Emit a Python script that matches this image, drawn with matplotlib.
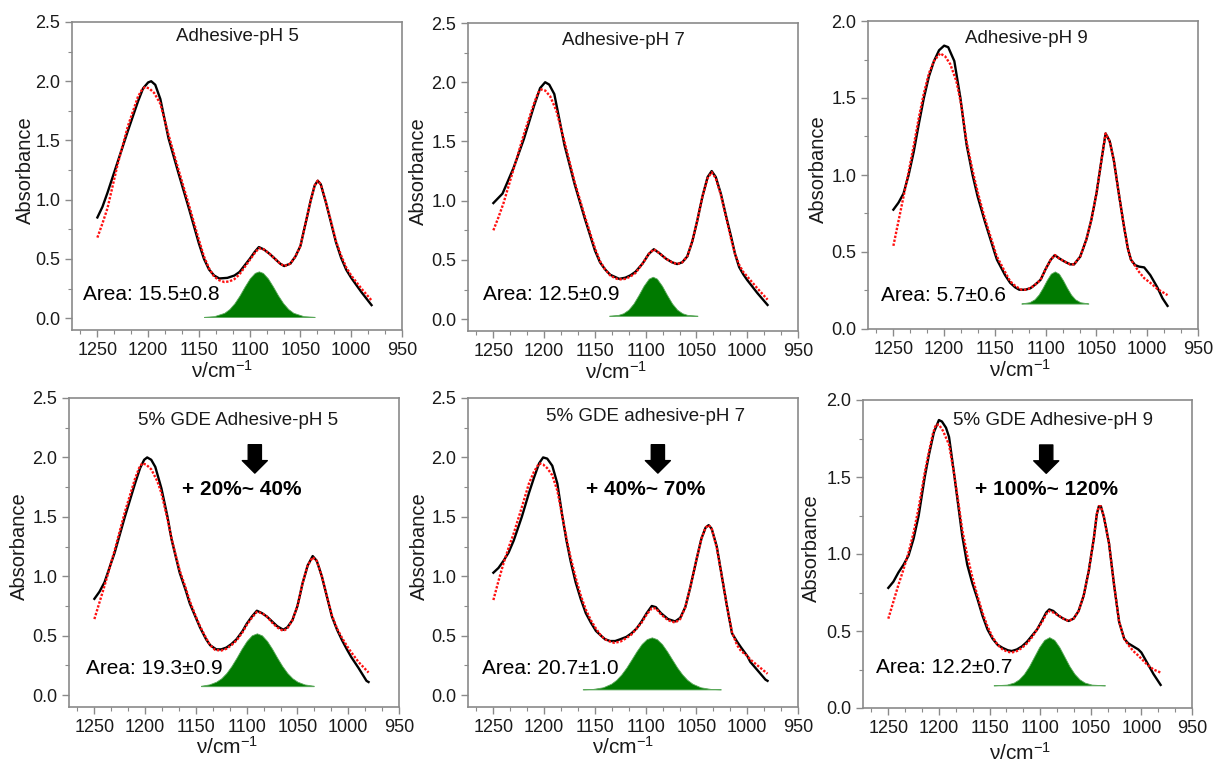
import numpy as np
import matplotlib
matplotlib.use('Agg')
import matplotlib.pyplot as plt
from matplotlib.ticker import MultipleLocator, AutoMinorLocator

plt.rcParams['font.family'] = ['Liberation Sans', 'DejaVu Sans']
plt.rcParams['mathtext.fontset'] = 'custom'
plt.rcParams['mathtext.rm'] = 'Liberation Sans'
plt.rcParams['mathtext.it'] = 'Liberation Sans'

######## data (wavenumber in cm-1, absorbance)
# Adhesive pH 5
wn_a5 = [1250, 1245, 1240, 1230, 1220, 1210, 1205, 1200, 1197, 1193, 1188, 1180, 1170, 1160, 1150,
         1145, 1140, 1135, 1130, 1122, 1115, 1110, 1100, 1095, 1091, 1086, 1080, 1070, 1066, 1060,
         1055, 1050, 1045, 1040, 1036, 1033, 1030, 1025, 1020, 1015, 1010, 1005, 1000, 990, 980]
abs_a5 = [0.85, 0.94, 1.06, 1.32, 1.58, 1.83, 1.94, 1.99, 2.00, 1.97, 1.85, 1.52, 1.22, 0.93, 0.63,
          0.50, 0.41, 0.36, 0.335, 0.34, 0.36, 0.39, 0.50, 0.56, 0.60, 0.58, 0.54, 0.46, 0.44, 0.46,
          0.52, 0.61, 0.80, 0.99, 1.12, 1.16, 1.13, 0.98, 0.81, 0.64, 0.51, 0.41, 0.34, 0.22, 0.11]
fwn_a5 = [1250, 1245, 1240, 1230, 1220, 1210, 1206, 1203, 1199, 1194, 1188, 1180, 1170, 1160, 1150,
          1145, 1140, 1135, 1130, 1125, 1120, 1115, 1110, 1100, 1095, 1091, 1086, 1080, 1070, 1066,
          1060, 1055, 1050, 1045, 1040, 1036, 1033, 1030, 1025, 1020, 1015, 1010, 1005, 1000, 990, 980]
fit_a5 = [0.68, 0.80, 0.93, 1.30, 1.62, 1.87, 1.93, 1.95, 1.94, 1.90, 1.81, 1.55, 1.25, 0.96, 0.66,
          0.52, 0.42, 0.35, 0.32, 0.305, 0.31, 0.33, 0.37, 0.49, 0.55, 0.59, 0.58, 0.54, 0.46, 0.44,
          0.46, 0.52, 0.61, 0.80, 0.99, 1.12, 1.16, 1.13, 0.98, 0.82, 0.65, 0.53, 0.43, 0.36, 0.25, 0.15]
pwn_a5 = [1145, 1135, 1125, 1120, 1115, 1110, 1105, 1100, 1095, 1091, 1087, 1082, 1077, 1072, 1067,
          1062, 1057, 1047, 1036]
peak_a5 = [0.011, 0.017, 0.045, 0.077, 0.126, 0.191, 0.266, 0.335, 0.382, 0.395, 0.382, 0.335, 0.266,
           0.191, 0.126, 0.077, 0.045, 0.017, 0.011]
base_a5 = 0.01

# Adhesive pH 7
wn_a7 = [1250, 1241, 1230, 1220, 1210, 1204, 1199, 1195, 1190, 1180, 1170, 1160, 1150, 1145, 1140,
         1135, 1126, 1120, 1115, 1110, 1103, 1097, 1092, 1087, 1080, 1074, 1069, 1064, 1059, 1054,
         1049, 1044, 1039, 1035, 1031, 1026, 1020, 1016, 1012, 1008, 1004, 1000, 990, 980]
abs_a7 = [0.98, 1.06, 1.28, 1.52, 1.80, 1.95, 2.00, 1.98, 1.90, 1.47, 1.14, 0.85, 0.58, 0.48, 0.42,
          0.375, 0.34, 0.35, 0.37, 0.40, 0.47, 0.55, 0.59, 0.56, 0.51, 0.48, 0.465, 0.48, 0.53, 0.66,
          0.84, 1.04, 1.20, 1.25, 1.20, 1.06, 0.84, 0.70, 0.55, 0.44, 0.38, 0.33, 0.22, 0.12]
fwn_a7 = [1250, 1245, 1240, 1230, 1220, 1210, 1206, 1203, 1199, 1194, 1188, 1180, 1170, 1160, 1150,
          1145, 1140, 1135, 1130, 1126, 1120, 1115, 1110, 1103, 1097, 1092, 1087, 1080, 1074, 1069,
          1064, 1059, 1054, 1049, 1044, 1039, 1035, 1031, 1026, 1020, 1016, 1012, 1008, 1004, 1000,
          990, 980]
fit_a7 = [0.75, 0.86, 0.98, 1.27, 1.56, 1.82, 1.91, 1.94, 1.93, 1.88, 1.76, 1.50, 1.16, 0.87, 0.60,
          0.49, 0.42, 0.37, 0.345, 0.335, 0.34, 0.36, 0.39, 0.47, 0.55, 0.59, 0.56, 0.51, 0.48, 0.465,
          0.48, 0.53, 0.66, 0.84, 1.04, 1.19, 1.24, 1.19, 1.05, 0.83, 0.68, 0.55, 0.46, 0.40, 0.36,
          0.26, 0.165]
pwn_a7 = [1136, 1127, 1122, 1117, 1112, 1107, 1102, 1097, 1093, 1089, 1084, 1079, 1074, 1069, 1064,
          1059, 1049]
peak_a7 = [0.029, 0.036, 0.050, 0.080, 0.132, 0.204, 0.282, 0.342, 0.358, 0.342, 0.282, 0.204, 0.132,
           0.080, 0.050, 0.036, 0.029]
base_a7 = 0.028

# Adhesive pH 9
wn_a9 = [1250, 1245, 1240, 1235, 1230, 1225, 1220, 1215, 1210, 1205, 1200, 1196, 1190, 1184, 1178,
         1172, 1167, 1160, 1150, 1148, 1140, 1135, 1130, 1126, 1120, 1115, 1110, 1105, 1100, 1095,
         1091, 1087, 1082, 1076, 1072, 1066, 1060, 1055, 1050, 1045, 1041, 1037, 1033, 1028, 1023,
         1019, 1016, 1012, 1008, 1003, 997, 990, 985, 980]
abs_a9 = [0.775, 0.82, 0.88, 1.00, 1.15, 1.33, 1.50, 1.64, 1.74, 1.81, 1.84, 1.83, 1.74, 1.50, 1.20,
          1.00, 0.86, 0.70, 0.49, 0.45, 0.35, 0.30, 0.27, 0.255, 0.255, 0.265, 0.29, 0.32, 0.39, 0.45,
          0.48, 0.46, 0.44, 0.42, 0.42, 0.47, 0.58, 0.71, 0.88, 1.10, 1.27, 1.22, 1.10, 0.88, 0.67,
          0.52, 0.45, 0.415, 0.405, 0.40, 0.35, 0.27, 0.20, 0.15]
fwn_a9 = [1250, 1245, 1240, 1235, 1230, 1225, 1220, 1215, 1210, 1204, 1199, 1194, 1188, 1183, 1178,
          1172, 1167, 1160, 1150, 1148, 1140, 1135, 1130, 1124, 1120, 1115, 1110, 1105, 1100, 1095,
          1091, 1087, 1082, 1076, 1072, 1066, 1060, 1055, 1050, 1045, 1041, 1037, 1033, 1028, 1023,
          1019, 1016, 1012, 1008, 1003, 997, 990, 985, 980]
fit_a9 = [0.54, 0.70, 0.86, 1.02, 1.19, 1.37, 1.53, 1.66, 1.74, 1.79, 1.77, 1.72, 1.61, 1.45, 1.22,
          1.03, 0.89, 0.72, 0.51, 0.47, 0.37, 0.31, 0.28, 0.255, 0.255, 0.265, 0.29, 0.32, 0.39, 0.45,
          0.48, 0.46, 0.44, 0.42, 0.42, 0.47, 0.58, 0.71, 0.88, 1.10, 1.27, 1.22, 1.10, 0.88, 0.67,
          0.52, 0.45, 0.41, 0.37, 0.33, 0.30, 0.26, 0.24, 0.22]
pwn_a9 = [1124, 1116, 1111, 1107, 1103, 1099, 1095, 1091, 1087, 1083, 1079, 1075, 1071, 1066, 1058]
peak_a9 = [0.166, 0.174, 0.193, 0.223, 0.267, 0.317, 0.359, 0.374, 0.359, 0.317, 0.267, 0.223, 0.193,
           0.174, 0.166]
base_a9 = 0.165

# 5% GDE adhesive pH 5
wn_g5 = [1250, 1245, 1240, 1230, 1220, 1210, 1205, 1201, 1198, 1194, 1190, 1184, 1178, 1174, 1170,
         1166, 1160, 1156, 1150, 1146, 1140, 1136, 1130, 1125, 1120, 1115, 1110, 1104, 1100, 1095,
         1090, 1085, 1080, 1075, 1070, 1064, 1060, 1055, 1050, 1045, 1040, 1035, 1031, 1026, 1021,
         1016, 1011, 1006, 1001, 997, 990, 982, 980]
abs_g5 = [0.81, 0.87, 0.95, 1.20, 1.50, 1.78, 1.91, 1.98, 2.00, 1.98, 1.92, 1.74, 1.50, 1.31, 1.17,
          1.03, 0.88, 0.77, 0.65, 0.57, 0.47, 0.42, 0.385, 0.385, 0.40, 0.43, 0.47, 0.54, 0.60, 0.66,
          0.71, 0.69, 0.66, 0.62, 0.58, 0.55, 0.57, 0.63, 0.75, 0.94, 1.09, 1.17, 1.13, 1.00, 0.83,
          0.66, 0.55, 0.46, 0.38, 0.32, 0.23, 0.12, 0.11]
fwn_g5 = [1250, 1245, 1240, 1230, 1220, 1210, 1206, 1203, 1199, 1194, 1188, 1184, 1178, 1174, 1170,
          1166, 1160, 1156, 1150, 1146, 1140, 1136, 1131, 1125, 1120, 1115, 1110, 1104, 1100, 1095,
          1090, 1085, 1080, 1075, 1070, 1064, 1060, 1055, 1050, 1045, 1040, 1035, 1031, 1026, 1021,
          1016, 1011, 1006, 1001, 997, 990, 980]
fit_g5 = [0.64, 0.78, 0.92, 1.22, 1.54, 1.82, 1.91, 1.95, 1.94, 1.90, 1.80, 1.70, 1.48, 1.32, 1.18,
          1.05, 0.90, 0.79, 0.66, 0.58, 0.48, 0.42, 0.38, 0.375, 0.39, 0.42, 0.46, 0.53, 0.59, 0.65,
          0.70, 0.69, 0.66, 0.61, 0.57, 0.54, 0.56, 0.63, 0.75, 0.94, 1.09, 1.16, 1.13, 1.00, 0.83,
          0.67, 0.56, 0.48, 0.41, 0.36, 0.28, 0.19]
pwn_g5 = [1145, 1137, 1130, 1125, 1120, 1115, 1110, 1105, 1100, 1095, 1090, 1085, 1080, 1075, 1070,
          1065, 1060, 1055, 1050, 1043, 1034]
peak_g5 = [0.079, 0.090, 0.113, 0.142, 0.186, 0.245, 0.315, 0.390, 0.456, 0.503, 0.52, 0.503, 0.456,
           0.390, 0.315, 0.245, 0.186, 0.142, 0.113, 0.090, 0.079]
base_g5 = 0.075

# 5% GDE adhesive pH 7
wn_g7 = [1250, 1245, 1240, 1235, 1230, 1222, 1215, 1210, 1205, 1201, 1197, 1192, 1187, 1182, 1178,
         1174, 1169, 1164, 1159, 1154, 1149, 1144, 1140, 1135, 1130, 1125, 1119, 1114, 1109, 1104,
         1099, 1094, 1090, 1085, 1078, 1071, 1066, 1061, 1056, 1050, 1045, 1041, 1038, 1035, 1030,
         1025, 1020, 1015, 1010, 1006, 1000, 997, 990, 982, 980]
abs_g7 = [1.03, 1.07, 1.13, 1.20, 1.30, 1.50, 1.70, 1.83, 1.95, 2.00, 1.99, 1.93, 1.78, 1.50, 1.30,
          1.13, 0.95, 0.81, 0.69, 0.61, 0.54, 0.50, 0.47, 0.455, 0.455, 0.47, 0.49, 0.52, 0.56, 0.62,
          0.69, 0.75, 0.74, 0.69, 0.64, 0.62, 0.65, 0.74, 0.91, 1.14, 1.32, 1.41, 1.43, 1.40, 1.25,
          1.00, 0.75, 0.52, 0.45, 0.40, 0.33, 0.28, 0.21, 0.13, 0.12]
fwn_g7 = [1250, 1245, 1240, 1235, 1230, 1222, 1215, 1210, 1205, 1201, 1197, 1192, 1187, 1182, 1178,
          1174, 1169, 1164, 1159, 1154, 1149, 1144, 1140, 1135, 1131, 1125, 1119, 1114, 1109, 1104,
          1099, 1094, 1090, 1085, 1078, 1071, 1066, 1061, 1056, 1050, 1045, 1041, 1038, 1035, 1030,
          1025, 1020, 1015, 1010, 1006, 1000, 997, 990, 980]
fit_g7 = [0.80, 0.96, 1.11, 1.24, 1.36, 1.58, 1.78, 1.88, 1.95, 1.94, 1.91, 1.85, 1.72, 1.50, 1.32,
          1.16, 0.99, 0.84, 0.72, 0.63, 0.56, 0.50, 0.47, 0.45, 0.44, 0.45, 0.48, 0.51, 0.56, 0.61,
          0.68, 0.73, 0.73, 0.68, 0.63, 0.61, 0.64, 0.74, 0.91, 1.14, 1.32, 1.41, 1.43, 1.40, 1.24,
          1.00, 0.75, 0.53, 0.42, 0.37, 0.33, 0.30, 0.25, 0.18]
pwn_g7 = [1162, 1152, 1142, 1134, 1129, 1124, 1119, 1114, 1109, 1104, 1099, 1094, 1089, 1084, 1079,
          1074, 1069, 1064, 1059, 1054, 1046, 1036, 1026]
peak_g7 = [0.049, 0.052, 0.066, 0.096, 0.128, 0.174, 0.232, 0.300, 0.369, 0.430, 0.471, 0.486, 0.471,
           0.430, 0.369, 0.300, 0.232, 0.174, 0.128, 0.096, 0.066, 0.052, 0.049]
base_g7 = 0.048

# 5% GDE adhesive pH 9
wn_g9 = [1250, 1245, 1240, 1235, 1230, 1225, 1220, 1214, 1210, 1205, 1200, 1197, 1193, 1190, 1185,
         1180, 1177, 1172, 1167, 1162, 1157, 1152, 1147, 1142, 1137, 1132, 1128, 1123, 1118, 1113,
         1108, 1103, 1098, 1094, 1091, 1087, 1082, 1077, 1072, 1067, 1062, 1057, 1052, 1047, 1044,
         1042, 1040, 1037, 1032, 1027, 1022, 1017, 1013, 1008, 1003, 1000, 994, 988, 981]
abs_g9 = [0.78, 0.82, 0.88, 0.93, 0.99, 1.10, 1.25, 1.50, 1.64, 1.79, 1.87, 1.86, 1.82, 1.76, 1.52,
          1.27, 1.12, 0.93, 0.81, 0.71, 0.60, 0.51, 0.45, 0.41, 0.39, 0.375, 0.37, 0.38, 0.40, 0.43,
          0.47, 0.51, 0.57, 0.62, 0.64, 0.63, 0.60, 0.58, 0.565, 0.58, 0.63, 0.73, 0.89, 1.10, 1.26,
          1.31, 1.31, 1.24, 1.07, 0.80, 0.56, 0.45, 0.42, 0.40, 0.38, 0.36, 0.29, 0.22, 0.15]
fwn_g9 = [1250, 1245, 1240, 1235, 1230, 1225, 1220, 1214, 1210, 1206, 1203, 1200, 1196, 1190, 1185,
          1180, 1177, 1172, 1167, 1162, 1157, 1152, 1147, 1142, 1137, 1132, 1128, 1123, 1118, 1113,
          1108, 1103, 1098, 1094, 1091, 1087, 1082, 1077, 1072, 1067, 1062, 1057, 1052, 1047, 1044,
          1042, 1040, 1037, 1032, 1027, 1022, 1017, 1013, 1008, 1003, 1000, 994, 988, 981]
fit_g9 = [0.58, 0.69, 0.80, 0.90, 1.01, 1.14, 1.30, 1.53, 1.66, 1.78, 1.84, 1.84, 1.80, 1.71, 1.52,
          1.30, 1.16, 0.99, 0.85, 0.73, 0.62, 0.53, 0.46, 0.41, 0.38, 0.365, 0.36, 0.37, 0.39, 0.42,
          0.46, 0.51, 0.56, 0.61, 0.63, 0.62, 0.60, 0.58, 0.565, 0.58, 0.63, 0.73, 0.89, 1.10, 1.26,
          1.31, 1.31, 1.24, 1.07, 0.80, 0.56, 0.45, 0.41, 0.37, 0.34, 0.32, 0.28, 0.25, 0.23]
pwn_g9 = [1146, 1133, 1126, 1121, 1116, 1111, 1106, 1101, 1096, 1091, 1086, 1081, 1076, 1071, 1066,
          1061, 1056, 1049, 1036]
peak_g9 = [0.147, 0.152, 0.165, 0.186, 0.221, 0.271, 0.333, 0.395, 0.442, 0.46, 0.442, 0.395, 0.333,
           0.271, 0.221, 0.186, 0.165, 0.152, 0.147]
base_g9 = 0.147

titles = ['Adhesive-pH 5', 'Adhesive-pH 7', 'Adhesive-pH 9',
          '5% GDE Adhesive-pH 5', '5% GDE adhesive-pH 7', '5% GDE Adhesive-pH 9']
areas = ['Area: 15.5±0.8', 'Area: 12.5±0.9', 'Area: 5.7±0.6',
         'Area: 19.3±0.9', 'Area: 20.7±1.0', 'Area: 12.2±0.7']
increase = [None, None, None, '+ 20%~ 40%', '+ 40%~ 70%', '+ 100%~ 120%']
y_top = [2.5, 2.5, 2.0, 2.5, 2.5, 2.0]

series = [(wn_a5, abs_a5, fwn_a5, fit_a5, pwn_a5, peak_a5, base_a5),
          (wn_a7, abs_a7, fwn_a7, fit_a7, pwn_a7, peak_a7, base_a7),
          (wn_a9, abs_a9, fwn_a9, fit_a9, pwn_a9, peak_a9, base_a9),
          (wn_g5, abs_g5, fwn_g5, fit_g5, pwn_g5, peak_g5, base_g5),
          (wn_g7, abs_g7, fwn_g7, fit_g7, pwn_g7, peak_g7, base_g7),
          (wn_g9, abs_g9, fwn_g9, fit_g9, pwn_g9, peak_g9, base_g9)]

######## layout in pixels: left, top, right, bottom of each axes box
W, H = 1217, 764
boxes = [(72, 22, 402, 330), (468, 23, 798, 331), (868, 21, 1198, 329),
         (69, 398, 399, 707), (468, 398, 798, 707), (863, 400, 1192, 708)]
title_pos = [(0.50, 0.952), (0.47, 0.943), (0.48, 0.944),
             (0.512, 0.927), (0.537, 0.939), (0.577, 0.933)]
area_pos = [(0.033, 0.114), (0.045, 0.117), (0.04, 0.11),
            (0.05, 0.126), (0.043, 0.126), (0.04, 0.133)]
arrow_x = [None, None, None, 1092, 1088, 1094]
arrow_y = [None, None, None, (2.107, 1.868), (2.107, 1.868), (1.708, 1.524)]
incr_pos = [None, None, None, (1105, 1.73), (1100, 1.73), (1094, 1.416)]
ylab_x = [-0.112, -0.12, -0.12, -0.12, -0.118, -0.127]
xlab_pos = [(0.455, -0.097), (0.45, -0.097), (0.46, -0.097),
            (0.478, -0.092), (0.47, -0.092), (0.477, -0.11)]

fig = plt.figure(figsize=(W / 100, H / 100), dpi=100)
grey = '#8a8a8a'

for i in range(6):
    l, t, r, b = boxes[i]
    ax = fig.add_axes([l / W, 1 - b / H, (r - l) / W, (b - t) / H])
    wn, ab, fwn, fit, pwn, pk, base = series[i]

    ax.fill_between(pwn, base, pk, color='#007a00', linewidth=0.6, edgecolor='#5aa85a', zorder=2)
    ax.plot(wn, ab, color='black', lw=1.7, zorder=3)
    ax.plot(fwn, fit, color='#ff1010', lw=1.7, linestyle=(0, (1, 0.7)), zorder=4)

    ax.set_xlim(1275, 950)
    if y_top[i] == 2.5:
        ax.set_ylim(-0.1, 2.5)
    else:
        ax.set_ylim(0.0, 2.0)
    ax.xaxis.set_major_locator(MultipleLocator(50))
    ax.xaxis.set_minor_locator(AutoMinorLocator(3))
    ax.yaxis.set_major_locator(MultipleLocator(0.5))
    ax.yaxis.set_minor_locator(AutoMinorLocator(2))
    ax.tick_params(which='both', direction='out', colors=grey, labelcolor='#1a1a1a',
                   labelsize=13, top=False, right=False)
    ax.tick_params(which='major', length=5, width=1.0)
    ax.tick_params(which='minor', length=3, width=0.8)
    for sp in ax.spines.values():
        sp.set_color(grey)
        sp.set_linewidth(1.2)

    ax.set_ylabel('Absorbance', fontsize=14.5, color='#1a1a1a')
    ax.yaxis.set_label_coords(ylab_x[i], 0.52)
    ax.set_xlabel('ν/cm$^{-1}$', fontsize=15, color='#1a1a1a')
    ax.xaxis.set_label_coords(xlab_pos[i][0], xlab_pos[i][1])

    ax.text(title_pos[i][0], title_pos[i][1], titles[i], transform=ax.transAxes,
            ha='center', va='center', fontsize=13.5, color='#1a1a1a')
    ax.text(area_pos[i][0], area_pos[i][1], areas[i], transform=ax.transAxes,
            ha='left', va='center', fontsize=15, color='black')

    if increase[i] is not None:
        ax.annotate('', xy=(arrow_x[i], arrow_y[i][1]), xytext=(arrow_x[i], arrow_y[i][0]),
                    arrowprops=dict(arrowstyle='simple,head_length=0.9,head_width=1.8,tail_width=0.95',
                                    color='black', shrinkA=0, shrinkB=0, mutation_scale=10))
        ax.text(incr_pos[i][0], incr_pos[i][1], increase[i], ha='center', va='center',
                fontsize=15, fontweight='bold', color='black')

plt.savefig('out.png', dpi=100)
